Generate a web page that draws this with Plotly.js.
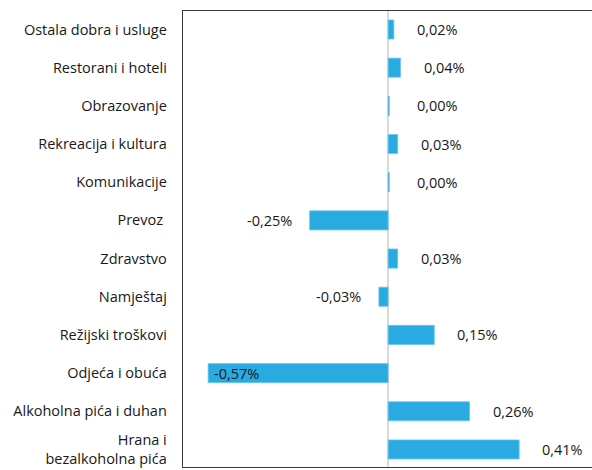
<!DOCTYPE html>
<html>
<head>
<meta charset="utf-8">
<script src="https://cdn.plot.ly/plotly-3.0.1.min.js"></script>
<style>html,body{margin:0;padding:0;background:#fff;}#chart{width:592px;height:470px;}</style>
</head>
<body>
<div id="chart"></div>
<script>
// Categories listed bottom to top
const categories = [
  "Hrana i<br>bezalkoholna pića",
  "Alkoholna pića i duhan",
  "Odjeća i obuća",
  "Režijski troškovi",
  "Namještaj",
  "Zdravstvo",
  "Prevoz ",
  "Komunikacije",
  "Rekreacija i kultura",
  "Obrazovanje",
  "Restorani i hoteli",
  "Ostala dobra i usluge"
];
const values = [0.412, 0.256, -0.566, 0.145, -0.029, 0.030, -0.247, 0.004, 0.030, 0.004, 0.039, 0.018];
const labels = ["0,41%", "0,26%", "-0,57%", "0,15%", "-0,03%", "0,03%", "-0,25%", "0,00%", "0,03%", "0,00%", "0,04%", "0,02%"];

const FONT = "Open Sans, Noto Sans, sans-serif";
const idx = categories.map((c, i) => i);

const annotations = values.map((v, i) => {
  const f = {family: FONT, size: 14.5, color: '#1a1718'};
  if (v < -0.4) {
    return {x: v, y: i, xref: 'x', yref: 'y', text: labels[i], showarrow: false,
      xanchor: 'left', xshift: 4, font: f};
  }
  if (v >= 0) {
    return {x: Math.max(v, 0.018), y: i, xref: 'x', yref: 'y', text: labels[i], showarrow: false,
      xanchor: 'left', xshift: 21, font: f};
  }
  return {x: v, y: i, xref: 'x', yref: 'y', text: labels[i], showarrow: false,
    xanchor: 'right', xshift: -16, font: f};
});

const trace = {
  type: 'bar',
  orientation: 'h',
  x: values,
  y: idx,
  width: 0.5,
  marker: {color: '#29abe2', line: {color: '#6cc6ec', width: 0.8}},
  hoverinfo: 'skip'
};

const layout = {
  width: 592, height: 470,
  margin: {l: 183, r: 0, t: 11, b: 3},
  paper_bgcolor: '#fff', plot_bgcolor: '#fff',
  showlegend: false,
  xaxis: {
    range: [-0.645, 0.641],
    showgrid: false, showticklabels: false, ticks: '',
    zeroline: true, zerolinecolor: '#d9d9d9', zerolinewidth: 1.5,
    showline: true, mirror: true, linecolor: '#3a3a3a', linewidth: 1.3
  },
  yaxis: {
    range: [-0.46, 11.485],
    tickmode: 'array', tickvals: idx, ticktext: categories,
    showgrid: false, zeroline: false, ticks: '',
    ticklabelstandoff: 12,
    showline: true, linecolor: '#3a3a3a', linewidth: 1.3,
    tickfont: {family: FONT, size: 14.5, color: '#1a1718'}
  },
  annotations: annotations
};

Plotly.newPlot('chart', [trace], layout, {staticPlot: true, displayModeBar: false});
</script>
</body>
</html>
